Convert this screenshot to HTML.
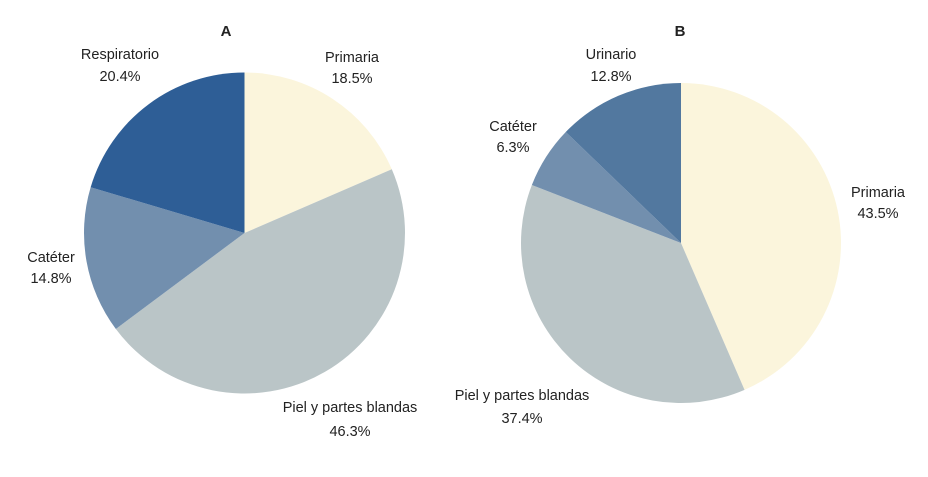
<!DOCTYPE html>
<html><head><meta charset="utf-8"><style>
html,body{margin:0;padding:0;background:#fff;}
svg text{font-family:"Liberation Sans",sans-serif;font-size:14.5px;fill:#222;}
</style></head><body>
<svg id="s" width="928" height="472" xmlns="http://www.w3.org/2000/svg">
<rect width="928" height="472" fill="#fff"/>
<g id="pa"></g><g id="pb"></g>
<text x="226" y="36" text-anchor="middle" font-weight="bold" style="font-size:15px">A</text>
<text x="680" y="36" text-anchor="middle" font-weight="bold" style="font-size:15px">B</text>
<text x="352" y="62" text-anchor="middle">Primaria</text>
<text x="352" y="83" text-anchor="middle">18.5%</text>
<text x="120" y="59" text-anchor="middle">Respiratorio</text>
<text x="120" y="81" text-anchor="middle">20.4%</text>
<text x="51" y="262" text-anchor="middle">Catéter</text>
<text x="51" y="283" text-anchor="middle">14.8%</text>
<text x="350" y="412" text-anchor="middle">Piel y partes blandas</text>
<text x="350" y="436" text-anchor="middle">46.3%</text>
<text x="611" y="59" text-anchor="middle">Urinario</text>
<text x="611" y="81" text-anchor="middle">12.8%</text>
<text x="513" y="131" text-anchor="middle">Catéter</text>
<text x="513" y="152" text-anchor="middle">6.3%</text>
<text x="878" y="197" text-anchor="middle">Primaria</text>
<text x="878" y="218" text-anchor="middle">43.5%</text>
<text x="522" y="400" text-anchor="middle">Piel y partes blandas</text>
<text x="522" y="423" text-anchor="middle">37.4%</text>
</svg>
<script>
function pie(id,cx,cy,r,vals,cols){
 var g=document.getElementById(id),a=0,h='';
 for(var i=0;i<vals.length;i++){
  var a1=a+vals[i]/100*2*Math.PI;
  var x0=cx+r*Math.sin(a),y0=cy-r*Math.cos(a),x1=cx+r*Math.sin(a1),y1=cy-r*Math.cos(a1);
  h+='<path d="M'+cx+','+cy+'L'+x0+','+y0+'A'+r+','+r+' 0 '+((a1-a)>Math.PI?1:0)+' 1 '+x1+','+y1+'Z" fill="'+cols[i]+'"/>';
  a=a1;
 }
 g.innerHTML=h;
}
pie('pa',244.5,233,160.5,[18.5,46.3,14.8,20.4],['#fbf5dc','#bac5c7','#728fae','#2e5e96']);
pie('pb',681,243,160,[43.5,37.4,6.3,12.8],['#fbf5dc','#bac5c7','#728fae','#52789f']);
</script>
</body></html>
